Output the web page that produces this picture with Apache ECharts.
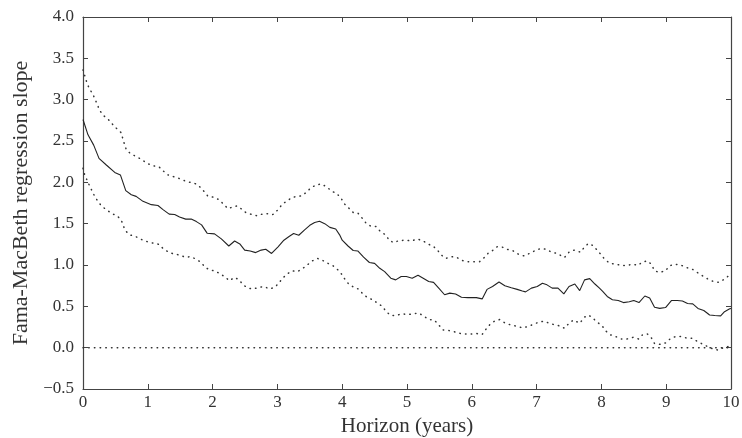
<!DOCTYPE html>
<html>
<head>
<meta charset="utf-8">
<script src="https://cdn.jsdelivr.net/npm/echarts@6/dist/echarts.min.js"></script>
<style>
html,body{margin:0;padding:0;background:#fff;}
#chart{width:742px;height:438px;}
</style>
</head>
<body>
<div id="chart"></div>
<script>
// Horizon (years) and Fama-MacBeth slope estimate (solid line)
const midH = [0,0.077,0.165,0.247,0.36,0.49,0.577,0.66,0.746,0.82,0.926,1.055,1.157,1.235,1.33,1.415,1.49,1.585,1.67,1.75,1.83,1.915,2.03,2.135,2.25,2.34,2.42,2.495,2.58,2.665,2.75,2.82,2.91,3.01,3.10,3.18,3.25,3.33,3.42,3.50,3.575,3.65,3.73,3.81,3.90,3.96,4.00,4.09,4.17,4.24,4.33,4.42,4.50,4.58,4.655,4.75,4.825,4.91,4.99,5.08,5.17,5.25,5.335,5.41,5.49,5.58,5.66,5.75,5.84,5.94,6.07,6.16,6.235,6.32,6.42,6.51,6.61,6.70,6.78,6.83,6.92,7.01,7.09,7.16,7.24,7.33,7.42,7.50,7.59,7.665,7.74,7.82,7.90,7.97,8.02,8.09,8.17,8.26,8.34,8.43,8.50,8.58,8.67,8.745,8.82,8.90,8.99,9.08,9.17,9.25,9.33,9.41,9.49,9.58,9.67,9.75,9.84,9.90,9.98,10];
const midV = [2.76,2.575,2.45,2.29,2.21,2.12,2.09,1.90,1.85,1.83,1.77,1.73,1.72,1.67,1.615,1.61,1.58,1.555,1.555,1.525,1.485,1.385,1.377,1.316,1.23,1.29,1.255,1.18,1.17,1.15,1.18,1.19,1.14,1.22,1.30,1.345,1.38,1.36,1.425,1.48,1.515,1.53,1.50,1.455,1.435,1.365,1.30,1.23,1.175,1.17,1.095,1.03,1.02,0.96,0.92,0.84,0.82,0.86,0.86,0.84,0.875,0.84,0.80,0.79,0.72,0.64,0.66,0.65,0.61,0.605,0.605,0.59,0.705,0.74,0.795,0.75,0.725,0.705,0.685,0.675,0.72,0.74,0.78,0.76,0.72,0.72,0.65,0.74,0.77,0.69,0.82,0.835,0.77,0.72,0.68,0.62,0.58,0.57,0.545,0.555,0.57,0.545,0.625,0.60,0.49,0.475,0.485,0.57,0.57,0.565,0.535,0.53,0.475,0.45,0.395,0.39,0.385,0.435,0.47,0.475];

// Upper confidence band (dotted)
const upH = [0,0.062,0.1,0.15,0.216,0.257,0.32,0.386,0.447,0.514,0.59,0.617,0.67,0.746,0.83,0.916,0.99,1.08,1.17,1.235,1.31,1.39,1.47,1.57,1.65,1.75,1.81,1.88,1.93,2.02,2.10,2.17,2.24,2.30,2.38,2.45,2.52,2.61,2.69,2.78,2.86,2.93,3.01,3.08,3.15,3.22,3.30,3.37,3.45,3.51,3.60,3.68,3.77,3.84,3.91,3.98,4.04,4.10,4.17,4.24,4.31,4.37,4.44,4.52,4.59,4.67,4.73,4.80,4.87,4.98,5.07,5.155,5.24,5.32,5.40,5.47,5.53,5.60,5.675,5.76,5.85,5.94,6.03,6.12,6.18,6.25,6.32,6.39,6.46,6.54,6.63,6.72,6.805,6.89,6.98,7.06,7.15,7.23,7.315,7.43,7.50,7.58,7.68,7.74,7.80,7.87,7.94,8.00,8.05,8.13,8.22,8.31,8.40,8.48,8.565,8.63,8.71,8.77,8.82,8.90,8.99,9.05,9.13,9.22,9.31,9.40,9.48,9.56,9.645,9.73,9.815,9.90,9.98,10];
const upV = [3.36,3.20,3.13,3.07,2.95,2.87,2.805,2.765,2.71,2.655,2.60,2.52,2.39,2.34,2.31,2.27,2.23,2.20,2.19,2.14,2.09,2.07,2.05,2.02,2.00,1.98,1.94,1.88,1.83,1.82,1.79,1.735,1.68,1.70,1.715,1.675,1.63,1.61,1.595,1.62,1.62,1.61,1.67,1.74,1.775,1.815,1.83,1.835,1.88,1.93,1.97,1.98,1.94,1.89,1.87,1.81,1.735,1.69,1.635,1.63,1.565,1.505,1.47,1.465,1.405,1.365,1.295,1.27,1.295,1.30,1.29,1.315,1.295,1.255,1.23,1.18,1.12,1.08,1.10,1.095,1.055,1.04,1.04,1.04,1.08,1.14,1.175,1.22,1.22,1.19,1.175,1.13,1.11,1.14,1.175,1.20,1.19,1.155,1.14,1.09,1.155,1.18,1.155,1.22,1.26,1.235,1.175,1.12,1.07,1.02,1.01,0.995,0.995,1.01,0.995,1.035,1.05,1.01,0.93,0.91,0.93,0.99,1.01,1.00,0.97,0.95,0.91,0.87,0.83,0.80,0.79,0.83,0.88,0.885];

// Lower confidence band (dotted)
const loH = [0,0.026,0.1,0.15,0.18,0.23,0.29,0.36,0.45,0.525,0.59,0.617,0.654,0.72,0.81,0.9,0.98,1.08,1.17,1.235,1.33,1.40,1.49,1.58,1.66,1.75,1.82,1.89,1.955,2.03,2.125,2.20,2.26,2.34,2.41,2.47,2.55,2.62,2.72,2.79,2.88,2.96,3.02,3.08,3.15,3.225,3.31,3.385,3.46,3.54,3.62,3.70,3.78,3.86,3.935,3.99,4.04,4.10,4.18,4.25,4.32,4.40,4.475,4.54,4.62,4.68,4.75,4.84,4.92,5.015,5.10,5.18,5.26,5.34,5.42,5.49,5.555,5.63,5.72,5.80,5.89,5.98,6.08,6.16,6.23,6.29,6.35,6.43,6.51,6.60,6.69,6.78,6.87,6.94,7.04,7.12,7.21,7.295,7.37,7.43,7.50,7.57,7.665,7.74,7.80,7.87,7.95,8.015,8.07,8.14,8.22,8.31,8.395,8.49,8.575,8.64,8.71,8.77,8.82,8.91,9.00,9.065,9.15,9.23,9.32,9.40,9.48,9.57,9.66,9.74,9.81,9.89,9.95,10];
const loV = [2.17,2.09,1.96,1.88,1.83,1.77,1.71,1.67,1.62,1.595,1.545,1.485,1.415,1.365,1.345,1.31,1.285,1.265,1.25,1.20,1.15,1.135,1.12,1.095,1.10,1.07,1.03,0.97,0.94,0.93,0.89,0.85,0.81,0.85,0.82,0.76,0.72,0.71,0.73,0.74,0.71,0.73,0.78,0.84,0.89,0.93,0.92,0.955,1.00,1.05,1.08,1.055,1.02,0.99,0.94,0.89,0.83,0.77,0.73,0.71,0.65,0.60,0.58,0.54,0.50,0.435,0.39,0.39,0.41,0.40,0.41,0.42,0.38,0.34,0.335,0.275,0.215,0.21,0.195,0.175,0.165,0.165,0.17,0.16,0.235,0.29,0.32,0.34,0.30,0.275,0.26,0.24,0.255,0.28,0.31,0.32,0.29,0.275,0.26,0.235,0.295,0.335,0.295,0.37,0.395,0.355,0.30,0.26,0.20,0.155,0.135,0.105,0.105,0.125,0.105,0.16,0.165,0.12,0.05,0.04,0.06,0.11,0.135,0.135,0.115,0.115,0.075,0.04,0.005,-0.02,-0.03,0.005,0.01,0.05];

// Zero reference line
const zeroH = [0, 10];
const zeroV = [0, 0];

const xTicks = {min: 0, max: 10, step: 1};
const yTicks = {min: -0.5, max: 4.0, step: 0.5};

const zip = (a, b) => a.map((x, i) => [x, b[i]]);

const FONT = 'Liberation Serif';
const AX = '#444';
const TXT = '#333';

const tickCommon = {show: true, inside: true, length: 5, lineStyle: {color: AX, width: 1}};
const lineCommon = {show: true, onZero: false, lineStyle: {color: AX, width: 1.2}};
const dotStyle = {color: '#333', width: 1.5, type: [0.5, 5.2], cap: 'round'};

const chart = echarts.init(document.getElementById('chart'), null, {renderer: 'canvas'});
chart.setOption({
  animation: false,
  backgroundColor: '#fff',
  grid: {left: 83, right: 11, top: 17, bottom: 49, containLabel: false, outerBoundsMode: 'none'},
  xAxis: [
    {
      type: 'value', position: 'bottom', min: xTicks.min, max: xTicks.max, interval: xTicks.step,
      name: 'Horizon (years)', nameLocation: 'middle', nameGap: 26,
      nameTextStyle: {fontFamily: FONT, fontSize: 21, color: TXT},
      axisLine: lineCommon, axisTick: tickCommon, splitLine: {show: false},
      axisLabel: {fontFamily: FONT, fontSize: 17, color: TXT, margin: 5}
    },
    {
      type: 'value', position: 'top', min: xTicks.min, max: xTicks.max, interval: xTicks.step,
      axisLine: lineCommon, axisTick: tickCommon, splitLine: {show: false},
      axisLabel: {show: false}
    }
  ],
  yAxis: [
    {
      type: 'value', position: 'left', min: yTicks.min, max: yTicks.max, interval: yTicks.step,
      name: 'Fama-MacBeth regression slope', nameLocation: 'middle', nameGap: 51,
      nameTextStyle: {fontFamily: FONT, fontSize: 22, color: TXT},
      axisLine: lineCommon, axisTick: tickCommon, splitLine: {show: false},
      axisLabel: {
        fontFamily: FONT, fontSize: 17, color: TXT, margin: 9,
        formatter: v => (v < 0 ? '\u2212' : '') + Math.abs(v).toFixed(1)
      }
    },
    {
      type: 'value', position: 'right', min: yTicks.min, max: yTicks.max, interval: yTicks.step,
      axisLine: lineCommon, axisTick: tickCommon, splitLine: {show: false},
      axisLabel: {show: false}
    }
  ],
  series: [
    {
      name: 'zero', type: 'line', data: zip(zeroH, zeroV), showSymbol: false, silent: true,
      lineStyle: dotStyle
    },
    {
      name: 'upper', type: 'line', data: zip(upH, upV), showSymbol: false, silent: true,
      lineStyle: dotStyle
    },
    {
      name: 'lower', type: 'line', data: zip(loH, loV), showSymbol: false, silent: true,
      lineStyle: dotStyle
    },
    {
      name: 'estimate', type: 'line', data: zip(midH, midV), showSymbol: false, silent: true,
      lineStyle: {color: '#222', width: 1.1}
    }
  ]
});
</script>
</body>
</html>
